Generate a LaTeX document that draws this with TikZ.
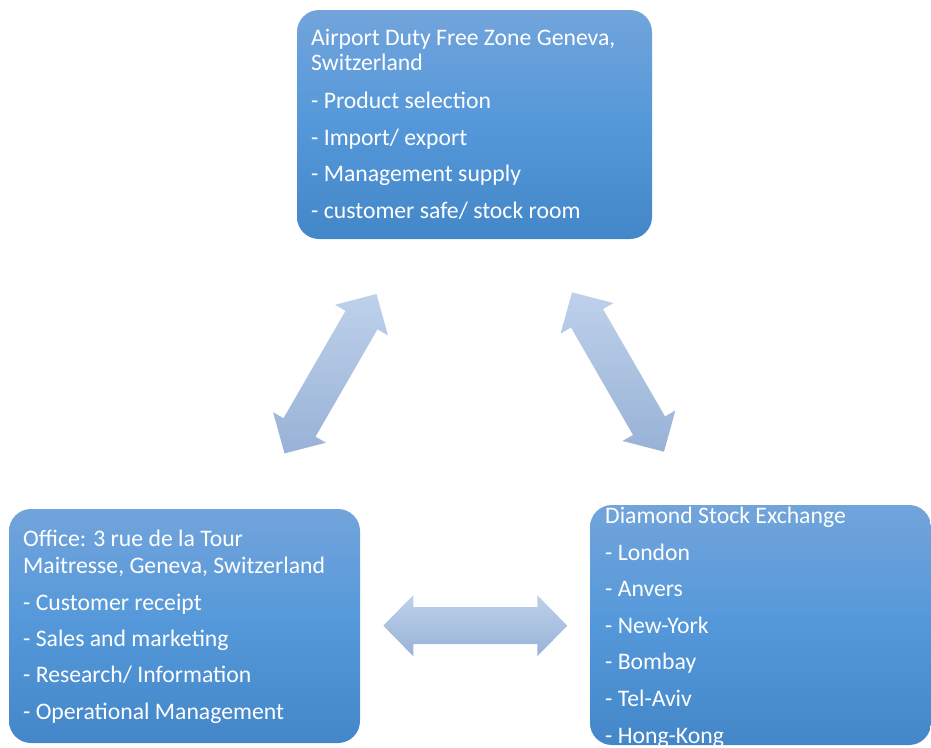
\documentclass[tikz,border=0pt]{standalone}
\usepackage{fontspec}
\setmainfont{Carlito}
\definecolor{boxTop}{RGB}{114,164,219}
\definecolor{boxMid}{RGB}{84,152,218}
\definecolor{boxBot}{RGB}{68,135,201}
\definecolor{arrTop}{RGB}{190,209,235}
\definecolor{arrBot}{RGB}{152,178,214}
\begin{document}
\begin{tikzpicture}[x=1pt,y=-1pt,
  panel/.style={rounded corners=22pt, top color=boxTop, bottom color=boxBot, middle color=boxMid, draw=none},
  txt/.style={anchor=base west, inner sep=0pt, text=white, font=\fontsize{23.7}{25.7}\selectfont},
  blockarrow/.style={top color=arrTop, bottom color=arrBot, draw=none}]
\useasboundingbox (0,0) rectangle (931,747);

% boxes
\path[panel] (297,10) rectangle (652,239);
\node[inner sep=0pt, minimum width=355pt, minimum height=229pt] (airport) at (474.5,124.5) {};
\path[panel] (9,509) rectangle (360,743);
\node[inner sep=0pt, minimum width=351pt, minimum height=234pt] (office) at (184.5,626) {};
\path[panel] (590,505) rectangle (931,745);
\node[inner sep=0pt, minimum width=341pt, minimum height=240pt] (diamond) at (760.5,625) {};

% top box text
\node[txt] (a1) at (311,45) {Airport Duty Free Zone Geneva,};
\node[txt] (a2) at (311,70.7) {Switzerland};
\node[txt] (a3) at (311,108) {- Product selection};
\node[txt] (a4) at (311,145.2) {- Import/ export};
\node[txt] (a5) at (311,181.7) {- Management supply};
\node[txt] (a6) at (311,218.3) {- customer safe/ stock room};

% office text
\node[txt] (o1) at (23,546.7) {Office: 3 rue de la Tour};
\node[txt] (o2) at (23,573) {Maitresse, Geneva, Switzerland};
\node[txt] (o3) at (23,610) {- Customer receipt};
\node[txt] (o4) at (23,646.5) {- Sales and marketing};
\node[txt] (o5) at (23,682.8) {- Research/ Information};
\node[txt] (o6) at (23,719.3) {- Operational Management};

% diamond text
\node[txt] (d1) at (605,523.3) {Diamond Stock Exchange};
\node[txt] (d2) at (605,560) {- London};
\node[txt] (d3) at (605,596.6) {- Anvers};
\node[txt] (d4) at (605,633.2) {- New-York};
\node[txt] (d5) at (605,669.8) {- Bombay};
\node[txt] (d6) at (605,706.4) {- Tel-Aviv};
\node[txt] (d7) at (605,743) {- Hong-Kong};

% left diagonal double arrow
\path[blockarrow] (376.5,294) -- (387.9,335.3) -- (377.5,329.3) -- (315.5,436.7)
  -- (325.9,442.7) -- (284.5,453.4) -- (273.1,412.2) -- (283.5,418.2)
  -- (345.5,310.8) -- (335.1,304.8) -- cycle;
% right diagonal double arrow
\path[blockarrow] (572,292.3) -- (613.4,303.05) -- (603,309.05) -- (665,416.45)
  -- (675.4,410.45) -- (664,451.7) -- (622.6,440.95) -- (633,434.95)
  -- (571,327.55) -- (560.6,333.55) -- cycle;
% horizontal double arrow
\path[blockarrow] (383.3,625.7) -- (413.3,595.2) -- (413.3,607.2) -- (537.3,607.2)
  -- (537.3,595.2) -- (567.3,625.7) -- (537.3,656.2) -- (537.3,644.2)
  -- (413.3,644.2) -- (413.3,656.2) -- cycle;
\end{tikzpicture}
\end{document}
